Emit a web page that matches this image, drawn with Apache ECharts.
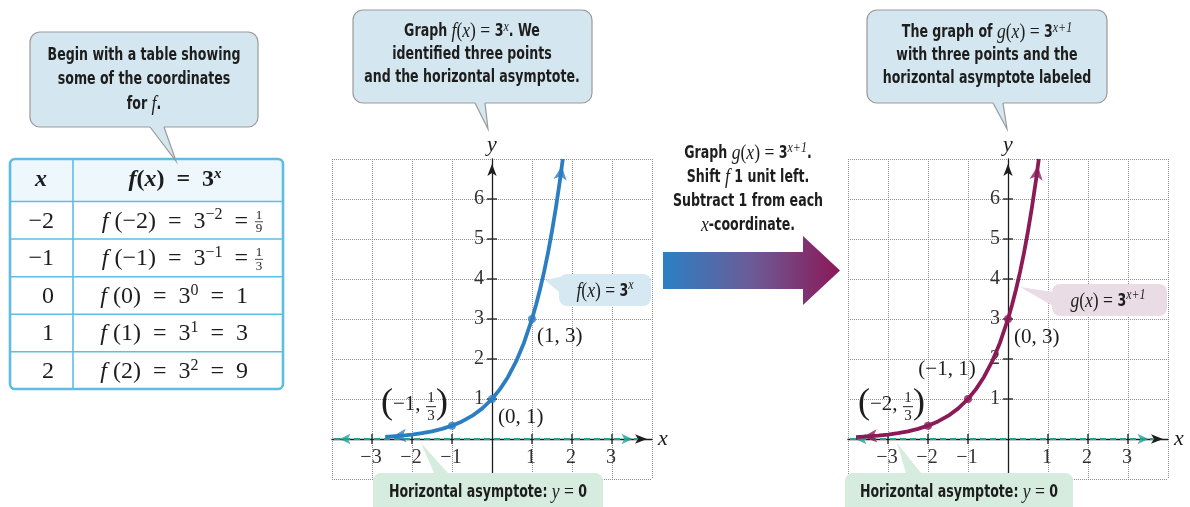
<!DOCTYPE html>
<html>
<head>
<meta charset="utf-8">
<script src="https://cdn.jsdelivr.net/npm/echarts@6/dist/echarts.min.js"></script>
<style>
  html, body { margin: 0; padding: 0; background: #ffffff; }
  #main { width: 1190px; height: 507px; }
</style>
</head>
<body>
<div id="main"></div>
<script>
// ---------- data ----------
const xTicks = [-3, -2, -1, 1, 2, 3];
const yTicks = [1, 2, 3, 4, 5, 6];

// f(x) = 3^x
const curveF = [[-2.67, 0.053], [-2.5, 0.064], [-2.25, 0.084], [-2, 0.111], [-1.75, 0.146], [-1.5, 0.192],
                [-1.25, 0.253], [-1, 0.333], [-0.75, 0.439], [-0.5, 0.577], [-0.25, 0.760], [0, 1],
                [0.2, 1.246], [0.4, 1.552], [0.6, 1.933], [0.8, 2.408], [1, 3], [1.1, 3.348], [1.2, 3.737],
                [1.3, 4.171], [1.4, 4.656], [1.5, 5.196], [1.6, 5.800], [1.7, 6.473], [1.77, 7.0]];
const pointsF = [[-1, 0.333], [0, 1], [1, 3]];
const labelsF = ['(−1, 1/3)', '(0, 1)', '(1, 3)'];

// g(x) = 3^(x+1), the same curve one unit to the left
const curveG = [[-3.8, 0.046], [-3.5, 0.064], [-3.25, 0.084], [-3, 0.111], [-2.75, 0.146], [-2.5, 0.192],
                [-2.25, 0.253], [-2, 0.333], [-1.75, 0.439], [-1.5, 0.577], [-1.25, 0.760], [-1, 1],
                [-0.8, 1.246], [-0.6, 1.552], [-0.4, 1.933], [-0.2, 2.408], [0, 3], [0.1, 3.348], [0.2, 3.737],
                [0.3, 4.171], [0.4, 4.656], [0.5, 5.196], [0.6, 5.800], [0.7, 6.473], [0.77, 7.0]];
const pointsG = [[-2, 0.333], [-1, 1], [0, 3]];
const labelsG = ['(−2, 1/3)', '(−1, 1)', '(0, 3)'];

// horizontal asymptote y = 0 (drawn segment)
const asymptoteF = [[-3.95, 0], [3.65, 0]];
const asymptoteG = [[-3.95, 0], [3.65, 0]];

// table of values for f
const tableX = ['−2', '−1', '0', '1', '2'];
const tableExp = ['−2', '−1', '0', '1', '2'];
const tableVal = ['1/9', '1/3', '1', '3', '9'];

// ---------- style ----------
const SERIF = "'Liberation Serif', 'DejaVu Serif', serif";
const COND = "'DejaVu Sans Condensed', 'Liberation Sans Narrow', 'DejaVu Sans', sans-serif";
const INK = '#1d1d1d';
const BLUE = '#2c7dc1';
const MAROON = '#8b1a57';
const TEAL = '#1fa294';
const TABLE_LINE = '#5dbde3';

// label placement relative to each point (pixels)
const labelLayoutF = { offsets: [[-38, -21], [6, 18], [5, 17]], aligns: ['center', 'left', 'left'] };
const labelLayoutG = { offsets: [[-37, -21], [-21, -30], [6, 18.5]], aligns: ['center', 'center', 'left'] };

const fmt = v => (v < 0 ? '−' + Math.abs(v) : String(v));

function axisCommon(gi, min, max, name, gap) {
  return {
    type: 'value', gridIndex: gi, min, max, interval: 1,
    axisLine: { onZero: true, symbol: ['none', 'arrow'], symbolSize: [7, 12], symbolOffset: [0, -5],
                lineStyle: { color: INK, width: 1.3 } },
    axisTick: { show: false },
    axisLabel: { show: false },
    splitLine: { show: true, lineStyle: { color: '#8c8c8c', type: 'dotted', width: 1 } },
    name, nameLocation: 'end', nameGap: gap,
    nameTextStyle: { fontFamily: SERIF, fontStyle: 'italic', fontSize: 22, color: INK }
  };
}

// crossing tick marks and their labels, placed on the axes through the origin
function tickSeries(gi) {
  const data = xTicks.map(v => [v, 0, 0]).concat(yTicks.map(v => [0, v, 1]));
  return {
    type: 'custom', xAxisIndex: gi, yAxisIndex: gi, silent: true, z: 4, data,
    renderItem: (params, api) => {
      const p = api.coord([api.value(0), api.value(1)]);
      const L = 5;
      const onX = api.value(2) === 0;
      const shape = onX
        ? { x1: p[0], y1: p[1] - L, x2: p[0], y2: p[1] + L }
        : { x1: p[0] - L, y1: p[1], x2: p[0] + L, y2: p[1] };
      const label = onX ? fmt(api.value(0)) : fmt(api.value(1));
      return {
        type: 'group', children: [
          { type: 'line', shape, style: { stroke: INK, lineWidth: 1.3 } },
          { type: 'text', x: onX ? p[0] - 1 : p[0] - 8, y: onX ? p[1] + 19 : p[1],
            style: { text: label, fontFamily: SERIF, fontSize: 20, fill: '#333',
                     align: onX ? 'center' : 'right', verticalAlign: 'middle' } }
        ]
      };
    }
  };
}

// arrowhead rotated along the direction a -> b, tip placed on b
function arrowItem(a, b, len) {
  const th = Math.atan2(b[1] - a[1], b[0] - a[0]);
  return {
    value: b,
    symbolRotate: th * 180 / Math.PI - 90,
    symbolOffset: [-Math.cos(th) * len / 2, Math.sin(th) * len / 2]
  };
}

function curveSeries(gi, curve, color) {
  const n = curve.length;
  return [
    { type: 'line', xAxisIndex: gi, yAxisIndex: gi, data: curve, smooth: false,
      symbol: 'none', clip: false, z: 5, lineStyle: { color, width: 3.8, join: 'round' } },
    { type: 'scatter', xAxisIndex: gi, yAxisIndex: gi, clip: false, z: 6, symbol: 'arrow',
      symbolSize: [10, 14], itemStyle: { color },
      data: [arrowItem(curve[1], curve[0], 14), arrowItem(curve[n - 2], curve[n - 1], 14)] }
  ];
}

function asymptoteSeries(gi, seg) {
  return [
    { type: 'line', xAxisIndex: gi, yAxisIndex: gi, data: seg, symbol: 'none', z: 4,
      lineStyle: { color: TEAL, width: 2, type: [6, 4] } },
    { type: 'scatter', xAxisIndex: gi, yAxisIndex: gi, clip: false, z: 4, symbol: 'arrow',
      symbolSize: [8, 11], itemStyle: { color: TEAL },
      data: [arrowItem(seg[1], seg[0], 11), arrowItem(seg[0], seg[1], 11)] }
  ];
}

function pointSeries(gi, pts, color) {
  return { type: 'scatter', xAxisIndex: gi, yAxisIndex: gi, data: pts, symbol: 'circle',
           symbolSize: 8, z: 7, itemStyle: { color } };
}

// coordinate labels, with stacked fractions where needed
function labelSeries(gi, pts, labels, layout) {
  const txt = (text, x, y, size, align) => ({
    type: 'text', x, y,
    style: { text, fontFamily: SERIF, fontSize: size, fill: INK, align: align || 'center', verticalAlign: 'middle' }
  });
  return {
    type: 'custom', xAxisIndex: gi, yAxisIndex: gi, silent: true, z: 8, data: pts,
    renderItem: (params, api) => {
      const i = params.dataIndex;
      const p = api.coord([api.value(0), api.value(1)]);
      const cx = p[0] + layout.offsets[i][0];
      const cy = p[1] + layout.offsets[i][1];
      const text = labels[i];
      const m = text.match(/^\((.*), (\d+)\/(\d+)\)$/);
      if (m) {
        return {
          type: 'group', x: cx, y: cy, children: [
            txt('(', -27, -1, 36),
            txt(m[1] + ',', -21, 0, 21, 'left'),
            txt(m[2], 17, -7, 15),
            { type: 'line', shape: { x1: 12, y1: 2, x2: 22, y2: 2 }, style: { stroke: INK, lineWidth: 1 } },
            txt(m[3], 17, 11, 15),
            txt(')', 28, -1, 36)
          ]
        };
      }
      return txt(text, cx, cy, 21, layout.aligns[i]);
    }
  };
}

// ---------- text styles ----------
const NARROW = 0.8;
function richSet(lh) {
  return {
    t: { fontFamily: COND, fontWeight: 'bold', fontSize: 17.5, fill: INK, lineHeight: lh },
    m: { fontFamily: SERIF, fontStyle: 'italic', fontSize: 22, fill: INK, lineHeight: lh },
    e: { fontFamily: SERIF, fontSize: 22, fill: INK, lineHeight: lh },
    s: { fontFamily: SERIF, fontStyle: 'italic', fontSize: 15, fill: INK, lineHeight: lh - 10, verticalAlign: 'top' }
  };
}

function textEl(x, y, text, rich, align, sx) {
  return { type: 'text', x, y, z: 30, silent: true, scaleX: sx || 1,
           style: { text, rich, align: align || 'center', verticalAlign: 'middle' } };
}

// rounded callout box with a wedge pointer
function callout(box, ptr, fill, stroke) {
  const els = [];
  els.push({ type: 'rect', z: 20, silent: true,
             shape: { x: box[0], y: box[1], width: box[2], height: box[3], r: box[4] },
             style: { fill, stroke: stroke || null, lineWidth: stroke ? 1.2 : 0 } });
  const [a, b, tip] = ptr;
  let ia = a.slice(), ib = b.slice();
  if (Math.abs(a[1] - b[1]) < 0.5) {
    const d = a[1] > box[1] + box[3] / 2 ? -2 : 2;
    ia[1] += d; ib[1] += d;
  } else {
    const d = a[0] < box[0] + box[2] / 2 ? 2 : -2;
    ia[0] += d; ib[0] += d;
  }
  els.push({ type: 'polygon', z: 21, silent: true, shape: { points: [ia, a, tip, b, ib] }, style: { fill } });
  if (stroke) {
    els.push({ type: 'polyline', z: 22, silent: true, shape: { points: [a, tip, b] },
               style: { stroke, lineWidth: 1.2, fill: null } });
  }
  return els;
}

// ---------- graphic layer ----------
const graphics = [];

// table
const rowY = [159, 201.5, 239, 276.7, 314.2, 351.7, 389];
const tblL = 10, tblR = 283, colX = 73;
graphics.push({ type: 'rect', z: 10, silent: true,
  shape: { x: tblL, y: rowY[0], width: tblR - tblL, height: rowY[1] - rowY[0], r: [5, 5, 0, 0] },
  style: { fill: '#eef7fc' } });
for (let k = 1; k < rowY.length - 1; k++) {
  graphics.push({ type: 'line', z: 11, silent: true,
    shape: { x1: tblL, y1: rowY[k], x2: tblR, y2: rowY[k] }, style: { stroke: TABLE_LINE, lineWidth: 1.6 } });
}
graphics.push({ type: 'line', z: 11, silent: true,
  shape: { x1: colX, y1: rowY[0], x2: colX, y2: rowY[rowY.length - 1] }, style: { stroke: TABLE_LINE, lineWidth: 1.6 } });
graphics.push({ type: 'rect', z: 12, silent: true,
  shape: { x: tblL, y: rowY[0], width: tblR - tblL, height: rowY[6] - rowY[0], r: 5 },
  style: { fill: null, stroke: TABLE_LINE, lineWidth: 2.6 } });

const tblRich = {
  n: { fontFamily: SERIF, fontSize: 24, fill: INK, lineHeight: 28 },
  i: { fontFamily: SERIF, fontStyle: 'italic', fontSize: 24, fill: INK, lineHeight: 28 },
  s: { fontFamily: SERIF, fontSize: 16, fill: INK, lineHeight: 14, verticalAlign: 'top' },
  bi: { fontFamily: SERIF, fontStyle: 'italic', fontWeight: 'bold', fontSize: 24, fill: INK, lineHeight: 28 },
  b: { fontFamily: SERIF, fontWeight: 'bold', fontSize: 24, fill: INK, lineHeight: 28 },
  bs: { fontFamily: SERIF, fontStyle: 'italic', fontWeight: 'bold', fontSize: 15, fill: INK, lineHeight: 14, verticalAlign: 'top' }
};
const headC = (rowY[0] + rowY[1]) / 2;
graphics.push(textEl(41, headC, '{bi|x}', tblRich));
graphics.push(textEl(175, headC, '{bi|f}{b|(}{bi|x}{b|)  =  3}{bs|x}', tblRich));
tableX.forEach((xv, k) => {
  const c = (rowY[k + 1] + rowY[k + 2]) / 2;
  graphics.push(textEl(54, c + 1, '{n|' + xv + '}', tblRich, 'right'));
  const val = tableVal[k];
  const frac = val.includes('/');
  const tail = frac ? '' : '  ' + val;
  graphics.push(textEl(248, c + 1,
    '{i|f}{n| (' + xv + ')  =  3}{s|' + tableExp[k] + '}{n|  =' + tail + '}',
    tblRich, 'right'));
  if (frac) {
    const [nu, de] = val.split('/');
    const fs = { fontFamily: SERIF, fontSize: 13, fill: INK, align: 'center', verticalAlign: 'middle' };
    graphics.push({ type: 'text', z: 30, silent: true, x: 259, y: c - 5, style: Object.assign({ text: nu }, fs) });
    graphics.push({ type: 'line', z: 30, silent: true, shape: { x1: 255, y1: c + 1.5, x2: 263, y2: c + 1.5 },
                    style: { stroke: INK, lineWidth: 0.8 } });
    graphics.push({ type: 'text', z: 30, silent: true, x: 259, y: c + 8.5, style: Object.assign({ text: de }, fs) });
  }
});

// callouts
const CALLOUT_BLUE = '#d4e6ef';
const CALLOUT_EDGE = '#9a9a9a';
graphics.push(...callout([30, 32, 228, 95, 10], [[150, 127], [164, 127], [176, 161]], CALLOUT_BLUE, CALLOUT_EDGE));
graphics.push(textEl(144, 79.5,
  '{t|Begin with a table showing}\n{t|some of the coordinates}\n{t|for }{m|f}{t|.}', richSet(24.5), 'center', NARROW));

graphics.push(...callout([353, 10, 239, 93, 10], [[475, 103], [485, 103], [488, 129]], CALLOUT_BLUE, CALLOUT_EDGE));
graphics.push(textEl(472, 54.5,
  '{t|Graph }{m|f}{e|(}{m|x}{e|) = }{t|3}{s|x}{t|. We}\n{t|identified three points}\n{t|and the horizontal asymptote.}',
  richSet(23), 'center', NARROW));

graphics.push(...callout([867, 10, 240, 93, 10], [[993, 103], [1003, 103], [1007, 129]], CALLOUT_BLUE, CALLOUT_EDGE));
graphics.push(textEl(987, 55,
  '{t|The graph of }{m|g}{e|(}{m|x}{e|) = }{t|3}{s|x+1}\n{t|with three points and the}\n{t|horizontal asymptote labeled}',
  richSet(23), 'center', NARROW));

// curve name tags
graphics.push(...callout([559, 274, 92, 32, 8], [[560, 277], [560, 293], [545, 280]], '#d6e8f1'));
graphics.push(textEl(605, 291, '{m|f}{e|(}{m|x}{e|) = }{t|3}{s|x}', richSet(26), 'center', NARROW));
graphics.push(...callout([1052, 284, 115, 32, 8], [[1053, 292], [1053, 306], [1020, 287]], '#eadce4'));
graphics.push(textEl(1108, 301, '{m|g}{e|(}{m|x}{e|) = }{t|3}{s|x+1}', richSet(26), 'center', NARROW));

// asymptote tags
const GREEN = '#d6ecde';
graphics.push(...callout([373, 473, 230, 45, 8], [[434, 473], [448, 473], [421, 443]], GREEN));
graphics.push(textEl(488, 492, '{t|Horizontal asymptote: }{m|y}{e| = }{t|0}', richSet(26), 'center', NARROW));
graphics.push(...callout([845, 473, 228, 45, 8], [[906, 473], [921, 473], [897, 443]], GREEN));
graphics.push(textEl(959, 492, '{t|Horizontal asymptote: }{m|y}{e| = }{t|0}', richSet(26), 'center', NARROW));

// shift arrow between the graphs
graphics.push(textEl(748, 189,
  '{t|Graph }{m|g}{e|(}{m|x}{e|) = }{t|3}{s|x+1}{t|.}\n{t|Shift }{m|f}{t| 1 unit left.}\n{t|Subtract 1 from each}\n{m|x}{t|-coordinate.}',
  richSet(24), 'center', NARROW));
graphics.push({ type: 'polygon', z: 10, silent: true,
  shape: { points: [[663, 252], [803, 252], [803, 236], [840, 270.5], [803, 305], [803, 289], [663, 289]] },
  style: { fill: new echarts.graphic.LinearGradient(0, 0, 1, 0, [
    { offset: 0, color: '#2b80c5' }, { offset: 0.5, color: '#6b5c97' }, { offset: 1, color: '#8c1858' }]) } });

// ---------- chart ----------
const chart = echarts.init(document.getElementById('main'), null, { renderer: 'canvas' });
chart.setOption({
  animation: false,
  backgroundColor: '#ffffff',
  grid: [
    { left: 332, top: 159, width: 320, height: 320 },
    { left: 848, top: 159, width: 320, height: 320 }
  ],
  xAxis: [axisCommon(0, -4, 4, 'x', 6), axisCommon(1, -4, 4, 'x', 6)],
  yAxis: [axisCommon(0, -1, 7, 'y', 3), axisCommon(1, -1, 7, 'y', 3)],
  series: [
    tickSeries(0), tickSeries(1),
    ...asymptoteSeries(0, asymptoteF), ...asymptoteSeries(1, asymptoteG),
    ...curveSeries(0, curveF, BLUE), ...curveSeries(1, curveG, MAROON),
    pointSeries(0, pointsF, BLUE), pointSeries(1, pointsG, MAROON),
    labelSeries(0, pointsF, labelsF, labelLayoutF),
    labelSeries(1, pointsG, labelsG, labelLayoutG)
  ],
  graphic: { elements: graphics }
});
</script>
</body>
</html>
